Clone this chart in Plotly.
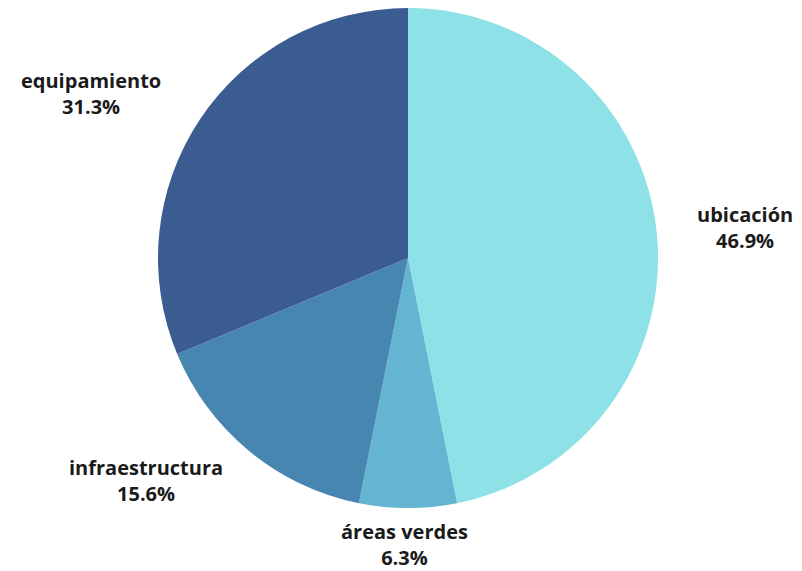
import plotly.graph_objects as go

# Share of responses per category (percent)
categories = ["ubicación", "áreas verdes", "infraestructura", "equipamiento"]
shares = [46.9, 6.3, 15.6, 31.3]
colors = ["#8DE1E7", "#64B5D1", "#4886B2", "#3B5C91"]

# Label anchor positions in paper coordinates
label_pos = {
    "ubicación": (0.929, 0.601),
    "áreas verdes": (0.504, 0.047),
    "infraestructura": (0.182, 0.158),
    "equipamiento": (0.113, 0.837),
}

W, H = 802, 571
cx, cy, r = 408, 258, 250

fig = go.Figure(
    go.Pie(
        labels=categories,
        values=shares,
        sort=False,
        direction="clockwise",
        rotation=0,
        marker=dict(colors=colors, line=dict(width=0)),
        textinfo="none",
        hoverinfo="label+value",
        showlegend=False,
        domain=dict(
            x=[(cx - r) / W, (cx + r) / W],
            y=[(H - cy - r) / H, (H - cy + r) / H],
        ),
    )
)

annotations = []
for name, val in zip(categories, shares):
    x, y = label_pos[name]
    annotations.append(
        dict(
            x=x,
            y=y,
            xref="paper",
            yref="paper",
            text=f"<b>{name}</b><br><b>{val}%</b>",
            showarrow=False,
            align="center",
            xanchor="center",
            yanchor="middle",
            font=dict(family="Open Sans", size=20, color="#1a1a1a"),
        )
    )

fig.update_layout(
    width=W,
    height=H,
    margin=dict(l=0, r=0, t=0, b=0),
    paper_bgcolor="white",
    plot_bgcolor="white",
    annotations=annotations,
)

fig.write_html("out.html")
